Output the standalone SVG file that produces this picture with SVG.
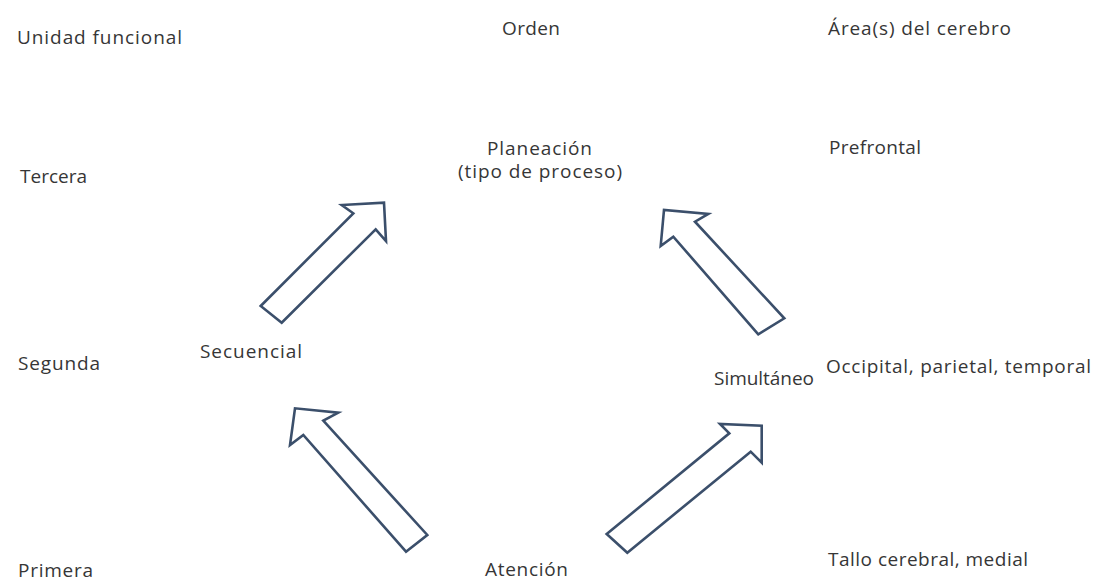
<svg xmlns="http://www.w3.org/2000/svg" width="1098" height="581" viewBox="0 0 1098 581">
<style>
text{font-family:"Open Sans","Liberation Sans",sans-serif;font-size:19px;fill:#363636}
.arrow{fill:#fff;stroke:#3b4f6b;stroke-width:2.6;stroke-linejoin:miter}
</style>
<rect width="1098" height="581" fill="#fff"/>
<g id="col-unidad">
<text x="17" y="44" textLength="165" lengthAdjust="spacing">Unidad funcional</text>
<text x="20" y="183" textLength="67" lengthAdjust="spacing">Tercera</text>
<text x="18" y="370" textLength="82" lengthAdjust="spacing">Segunda</text>
<text x="18" y="577" textLength="75" lengthAdjust="spacing">Primera</text>
</g>
<g id="col-orden">
<text x="502" y="35" textLength="58" lengthAdjust="spacing">Orden</text>
</g>
<g id="col-area">
<text x="828" y="35" textLength="183" lengthAdjust="spacing">Área(s) del cerebro</text>
<text x="829" y="154" textLength="92" lengthAdjust="spacing">Prefrontal</text>
<text x="826" y="373" textLength="265" lengthAdjust="spacing">Occipital, parietal, temporal</text>
<text x="828" y="566" textLength="200" lengthAdjust="spacing">Tallo cerebral, medial</text>
</g>
<g id="node-planeacion">
<text x="487" y="155" textLength="105" lengthAdjust="spacing">Planeación</text>
<text x="458" y="178" textLength="164" lengthAdjust="spacing">(tipo de proceso)</text>
</g>
<g id="node-secuencial">
<text x="200" y="358" textLength="102" lengthAdjust="spacing">Secuencial</text>
</g>
<g id="node-simultaneo">
<text x="714" y="385" textLength="100" lengthAdjust="spacing">Simultáneo</text>
</g>
<g id="node-atencion">
<text x="485" y="576" textLength="83" lengthAdjust="spacing">Atención</text>
</g>
<g id="connectors">
<polygon class="arrow" points="260.7,306 353.3,213.3 341.7,205 384,202.7 386,241 375.7,229.3 281.7,322.7"/>
<polygon class="arrow" points="758.3,334.3 673.3,236.7 660.7,246 664,210 708.3,214 695,221.7 784.3,318.3"/>
<polygon class="arrow" points="406,551.7 303.3,435 290,445 295,408.3 338.3,412.7 323.3,420.7 427.3,535"/>
<polygon class="arrow" points="606.7,534 729.3,433.3 720,424 761.7,425.7 761.7,462.7 750.7,451.7 627.3,552.7"/>
</g>
</svg>
